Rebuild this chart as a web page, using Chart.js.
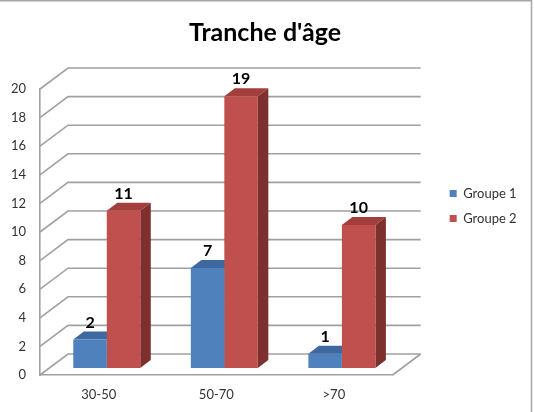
<!DOCTYPE html>
<html><head><meta charset="utf-8">
<script src="https://cdn.jsdelivr.net/npm/chart.js@4.4.1/dist/chart.umd.min.js"></script>
<style>html,body{margin:0;padding:0;background:#fff;}#wrap{width:534px;height:412px;position:relative;}</style>
</head><body><div id="wrap"><canvas id="c"></canvas></div>
<script>
// ---- data ----
const chartTitle = "Tranche d'âge";
const categories = ['30-50', '50-70', '>70'];
const seriesNames = ['Groupe 1', 'Groupe 2'];
const groupe1 = [2, 7, 1];
const groupe2 = [11, 19, 10];
const yMin = 0, yMax = 20, yStep = 2;

// ---- style ----
const FONT = 'Lato';
const TICK_SIZE = 13;
const frontColors = ['#4f81bd', '#c0504d'];
const topColors = ['#3d69a0', '#a23f3c'];
const sideColors = ['#30578a', '#7e302e'];
const gridColor = '#a0a0a0';
const WALL_DX = 28, WALL_DY = 21;
const BAR_OX = 8, BAR_OY = 7;
const BAR_DX = 10.5, BAR_DY = 8;

const mctx = document.createElement('canvas').getContext('2d');
mctx.font = TICK_SIZE + 'px ' + FONT;
const legTextW = Math.max(...seriesNames.map(s => mctx.measureText(s).width));
const LEG_PAD = 12;
const legendWidth = LEG_PAD + 7 + TICK_SIZE / 2 + legTextW + 10;
const plotRight = 390, gapScale = 45;
const padR = Math.max(0, 534 - plotRight - gapScale - legendWidth);
const padL = 6;

const threeD = {
  id: 'threeD',
  beforeDatasetsDraw(chart) {
    const {ctx, chartArea: a, scales: {y}} = chart;
    ctx.save();
    ctx.strokeStyle = gridColor;
    ctx.lineWidth = 1.6;
    y.ticks.forEach(t => {
      const py = y.getPixelForValue(t.value);
      ctx.beginPath();
      ctx.moveTo(a.left, py);
      ctx.lineTo(a.left + WALL_DX, py - WALL_DY);
      ctx.lineTo(a.right + WALL_DX, py - WALL_DY);
      ctx.stroke();
    });
    ctx.beginPath();
    ctx.moveTo(a.right, a.bottom);
    ctx.lineTo(a.right + WALL_DX, a.bottom - WALL_DY);
    ctx.stroke();
    chart.data.datasets.forEach((ds, i) => {
      const meta = chart.getDatasetMeta(i);
      meta.data.forEach(el => {
        const p = el.getProps(['x', 'y', 'base', 'width'], true);
        const l = p.x - p.width / 2 + BAR_OX, r = p.x + p.width / 2 + BAR_OX;
        const t = p.y - BAR_OY, b = p.base - BAR_OY;
        ctx.fillStyle = topColors[i];
        ctx.beginPath();
        ctx.moveTo(l, t); ctx.lineTo(r, t); ctx.lineTo(r + BAR_DX, t - BAR_DY); ctx.lineTo(l + BAR_DX, t - BAR_DY);
        ctx.closePath(); ctx.fill();
        ctx.fillStyle = sideColors[i];
        ctx.beginPath();
        ctx.moveTo(r, t); ctx.lineTo(r + BAR_DX, t - BAR_DY); ctx.lineTo(r + BAR_DX, b - BAR_DY); ctx.lineTo(r, b);
        ctx.closePath(); ctx.fill();
      });
    });
    ctx.restore();
    ctx.save();
    ctx.translate(BAR_OX, -BAR_OY);
  },
  afterDatasetsDraw(chart) {
    const ctx = chart.ctx;
    ctx.restore();
    ctx.save();
    ctx.fillStyle = '#000';
    ctx.font = 'bold 16px ' + FONT;
    ctx.textAlign = 'center';
    ctx.textBaseline = 'middle';
    chart.data.datasets.forEach((ds, i) => {
      const meta = chart.getDatasetMeta(i);
      meta.data.forEach((el, j) => {
        const p = el.getProps(['x', 'y'], true);
        ctx.fillText(String(ds.data[j]), p.x + BAR_OX, p.y - BAR_OY - 17);
      });
    });
    ctx.restore();
  },
  afterDraw(chart) {
    const ctx = chart.ctx;
    ctx.save();
    ctx.strokeStyle = '#a6a6a6';
    ctx.lineWidth = 1.5;
    ctx.beginPath();
    ctx.moveTo(0, 0.75); ctx.lineTo(531.5, 0.75); ctx.lineTo(531.5, 412);
    ctx.stroke();
    ctx.restore();
  }
};

new Chart(document.getElementById('c'), {
  type: 'bar',
  data: {
    labels: categories,
    datasets: [
      {label: seriesNames[0], data: groupe1, backgroundColor: frontColors[0], borderWidth: 0},
      {label: seriesNames[1], data: groupe2, backgroundColor: frontColors[1], borderWidth: 0}
    ]
  },
  options: {
    responsive: true,
    maintainAspectRatio: false,
    animation: false,
    devicePixelRatio: 1,
    categoryPercentage: 0.57,
    barPercentage: 1,
    layout: {padding: {left: padL, right: padR, top: 0, bottom: 0}},
    plugins: {
      title: {
        display: true, text: chartTitle, color: '#000',
        font: {family: FONT, size: 25, weight: 'bold'},
        padding: {top: 18, bottom: 41}
      },
      legend: {
        position: 'right', align: 'center',
        labels: {boxWidth: 7, boxHeight: 7, padding: LEG_PAD, color: '#333', font: {family: FONT, size: TICK_SIZE}}
      },
      tooltip: {enabled: false}
    },
    scales: {
      x: {
        grid: {display: false, drawTicks: false},
        border: {display: true, color: gridColor, width: 1.6},
        ticks: {color: '#333', font: {family: FONT, size: TICK_SIZE}, padding: 12},
        afterFit(s) { s.height = 37; }
      },
      y: {
        min: yMin, max: yMax,
        grid: {display: false, drawTicks: false},
        border: {display: true, color: gridColor, width: 1.6},
        ticks: {stepSize: yStep, color: '#333', font: {family: FONT, size: TICK_SIZE}, padding: 14},
        afterFit(s) { s.width = 40 - padL; }
      },
      gap: {
        type: 'linear', position: 'right', display: true,
        grid: {display: false, drawTicks: false}, border: {display: false},
        ticks: {display: false},
        afterFit(s) { s.width = gapScale; }
      }
    }
  },
  plugins: [threeD]
});
</script>
</body></html>
